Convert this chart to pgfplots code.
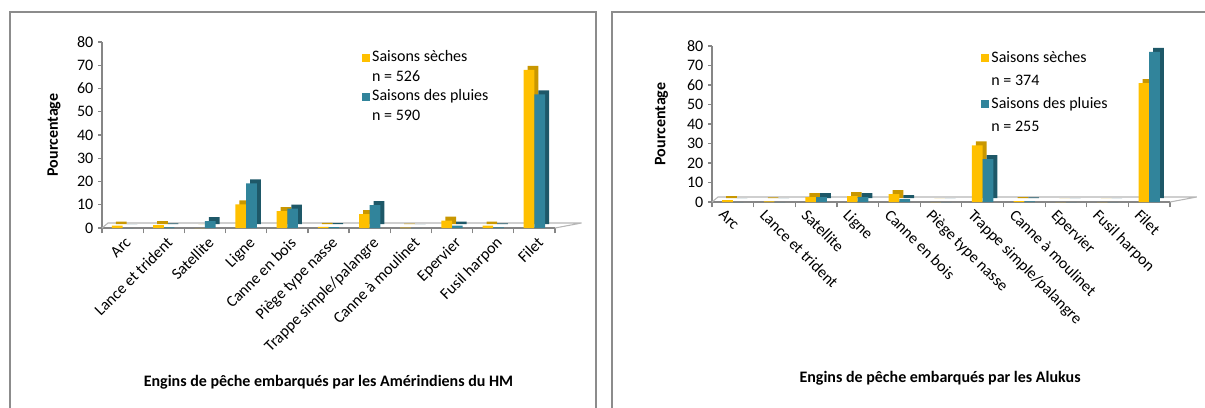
\documentclass[border=0pt]{standalone}
\usepackage{fontspec}
\setmainfont{Carlito}
\usepackage{pgfplots}
\pgfplotsset{compat=1.18}
\usepackage{pgfplotstable}

\definecolor{dry}{HTML}{FFC000}
\definecolor{drys}{HTML}{C99700}
\definecolor{rain}{HTML}{31849B}
\definecolor{rains}{HTML}{1E5868}
\definecolor{axgray}{HTML}{868686}
\definecolor{framegray}{HTML}{8C8C8C}

\pgfplotstableread{
x dry rain
0 1.0 0
1 1.2 0.3
2 0 3.0
3 10.2 19.2
4 7.3 8.3
5 0.5 0.4
6 6.0 9.8
7 0.2 0
8 3.2 1.0
9 1.0 0.3
10 68.0 57.5
}\hmdata

\pgfplotstableread{
x dry rain
0 1.0 0
1 0.3 0
2 2.5 2.5
3 3.0 2.5
4 4.0 1.5
5 0 0
6 29.0 22.0
7 0.5 0.3
8 0 0
9 0 0
10 61.0 77.0
}\aludata

\newcommand{\chartfont}{\fontsize{12}{14}\selectfont}

\pgfplotsset{
  engins/.style={
    scale only axis, clip=false,
    xmin=-0.5, xmax=10.5, ymin=0, ymax=80,
    ytick={0,10,...,80},
    xtick={0,...,10},
    xticklabels={Arc, Lance et trident, Satellite, Ligne, Canne en bois, Piège type nasse, Trappe simple/palangre, Canne à moulinet, Epervier, Fusil harpon, Filet},
    minor xtick={-0.5,0.5,...,10.5},
    major x tick style={draw=none},
    tick align=outside,
    axis x line*=bottom, axis y line*=left,
    axis line style={axgray, line width=0.9pt},
    every tick/.style={axgray, line width=0.9pt},
    minor tick length=4pt, major tick length=3pt,
    font=\chartfont,
    /pgf/number format/assume math mode=true,
    tick label style={black, font=\chartfont},
    every axis y label/.style={rotate=90, anchor=center, font=\chartfont\bfseries},
    every axis x label/.style={anchor=center, font=\chartfont\bfseries},
    ylabel={Pourcentage},
    legend image code/.code={\fill[##1] (0pt,-3pt) rectangle (6pt,3pt);},
    legend cell align=left,
  },
  dryside/.style={ybar, bar width=8pt, bar shift=-4pt, fill=drys, draw=none, forget plot, xshift=3pt, yshift=3pt},
  dryfront/.style={ybar, bar width=8pt, bar shift=-4pt, fill=dry, draw=none},
  rainside/.style={ybar, bar width=8pt, bar shift=4pt, fill=rains, draw=none, forget plot, xshift=3pt, yshift=3pt},
  rainfront/.style={ybar, bar width=8pt, bar shift=4pt, fill=rain, draw=none},
  blankentry/.style={draw=none, fill=white, fill opacity=0},
}

\begin{document}
\begin{tikzpicture}
\clip (0,0) rectangle (903.75pt,305.25pt);
% panel frames
\draw[framegray, line width=1.3pt] (7.5pt,-10pt) -- (7.5pt,296.25pt) -- (447pt,296.25pt) -- (447pt,-10pt);
\draw[framegray, line width=1.3pt] (459pt,-10pt) -- (459pt,296.25pt) -- (920pt,296.25pt);

% left panel
\begin{axis}[engins,
  at={(76.5pt,134.25pt)}, anchor=south west,
  width=339.75pt, height=139.5pt,
  xticklabel style={rotate=45, anchor=north east, inner sep=1pt, yshift=-2pt},
  xlabel={Engins de pêche embarqués par les Amérindiens du HM},
  x label style={at={(axis description cs:0.5,-0.828)}},
  y label style={at={(axis description cs:-0.106,0.5)}},
  legend style={draw=none, fill=none, at={(0.565,0.98)}, anchor=north west,
    row sep=0.6pt, nodes={inner sep=1.5pt, text height=8.5pt, text depth=2.5pt, font=\chartfont}},
]
\draw[axgray!60, line width=0.8pt] (axis cs:-0.5,0) -- ++(4.5pt,3.75pt) -- ++(339.75pt,0) -- (axis cs:10.5,0);
\addplot[dryside] table[x=x,y=dry]{\hmdata};
\addplot[dryfront] table[x=x,y=dry]{\hmdata};
\addlegendimage{blankentry}
\addplot[rainside] table[x=x,y=rain]{\hmdata};
\addplot[rainfront] table[x=x,y=rain]{\hmdata};
\addlegendimage{blankentry}
\legend{Saisons sèches, n = 526, Saisons des pluies, n = 590}
\end{axis}

% right panel
\begin{axis}[engins,
  at={(534pt,153.75pt)}, anchor=south west,
  width=343.5pt, height=117pt,
  xticklabel style={rotate=-45, anchor=north west, inner sep=1pt, yshift=-4pt, xshift=-4pt},
  xlabel={Engins de pêche embarqués par les Alukus},
  x label style={at={(axis description cs:0.498,-1.128)}},
  y label style={at={(axis description cs:-0.11,0.5)}},
  legend style={draw=none, fill=none, at={(0.579,1.0)}, anchor=north west,
    row sep=3.2pt, nodes={inner sep=1.5pt, text height=8.5pt, text depth=2.5pt, font=\chartfont}},
]
\draw[axgray!60, line width=0.8pt] (axis cs:-0.5,0) -- ++(4.5pt,3.75pt) -- ++(343.5pt,0) -- (axis cs:10.5,0);
\addplot[dryside] table[x=x,y=dry]{\aludata};
\addplot[dryfront] table[x=x,y=dry]{\aludata};
\addlegendimage{blankentry}
\addplot[rainside] table[x=x,y=rain]{\aludata};
\addplot[rainfront] table[x=x,y=rain]{\aludata};
\addlegendimage{blankentry}
\legend{Saisons sèches, n = 374, Saisons des pluies, n = 255}
\end{axis}
\end{tikzpicture}
\end{document}
